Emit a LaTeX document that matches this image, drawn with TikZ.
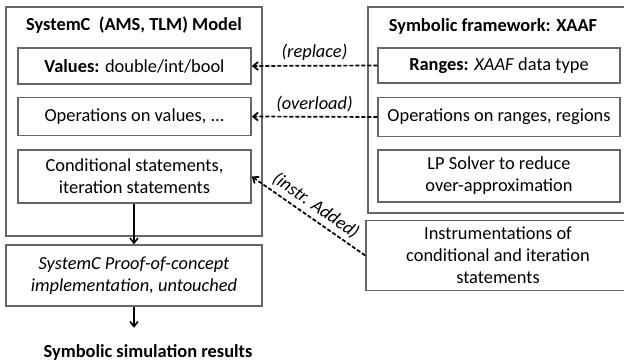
\documentclass[tikz,border=0pt]{standalone}
\usepackage{fontspec}
\setmainfont{Carlito}
\usetikzlibrary{arrows.meta, positioning}
\tikzset{
    >={Straight Barb[length=5pt,width=8pt]},
    frame/.style={
        rectangle,
        draw=black!60,
        line width=1.5pt,
        fill=white
    },
    item/.style={
        rectangle,
        draw=black!60,
        line width=1.5pt,
        fill=white,
        align=center,
        inner sep=2pt,
        font=\fontsize{18.4}{22}\selectfont
    },
    head/.style={
        font=\fontsize{18.4}{22}\selectfont\bfseries
    },
    remark/.style={
        font=\fontsize{18.4}{22}\selectfont\itshape,
        inner sep=1pt
    },
    flow/.style={
        draw=black,
        line width=1.6pt,
        ->
    },
    link/.style={
        draw=black,
        line width=1.7pt,
        dash pattern=on 4pt off 2pt
    }
}

\begin{document}
\begin{tikzpicture}[x=1pt, y=-1pt]

\useasboundingbox (0,0) rectangle (624,362);
\clip (0,0) rectangle (624,362);

% SystemC model
\node[frame, minimum width=256pt, minimum height=229pt] (model) at (134,121.5) {};
\node[head] (modeltitle) at (134,25) {SystemC\ \ (AMS, TLM) Model};

\node[item, minimum width=233pt, minimum height=36pt] (vals) at (134.5,66) {\textbf{Values:} double/int/bool};
\node[item, below=12pt of vals, minimum width=233pt, minimum height=38pt] (ops) {Operations on values, ...};
\node[item, below=13pt of ops, minimum width=233pt, minimum height=53pt] (cond) {Conditional statements,\\iteration statements};

% Proof of concept
\node[item, minimum width=256pt, minimum height=61pt, font=\fontsize{18.4}{22}\selectfont\itshape] (proof) at (134,275.5) {SystemC Proof-of-concept\\implementation, untouched};
\coordinate[below=21pt of proof] (resend);
\node[head] (result) at (148,352) {Symbolic simulation results};

\draw[flow] (proof.north |- cond.south) -- (proof.north);
\draw[flow] (proof.south) -- (resend);

% XAAF framework
\node[frame, minimum width=262pt, minimum height=206pt] (xaaf) at (499,110) {};
\node[head] (xaaftitle) at (493,26) {Symbolic framework: XAAF};

\node[item, minimum width=242pt, minimum height=35pt] (ranges) at (499,65.5) {\textbf{Ranges:} \textit{XAAF} data type};
\node[item, below=13pt of ranges, minimum width=242pt, minimum height=39pt] (rops) {Operations on ranges, regions};
\node[item, below=12pt of rops, minimum width=242pt, minimum height=52pt] (lp) {LP Solver to reduce\\over-approximation};

\node[item, minimum width=264pt, minimum height=70pt] (instr) at (498,255.5) {Instrumentations of\\conditional and iteration\\statements};

% Mappings
\draw[link, ->] (ranges.west) -- node[remark, above=3pt] {(replace)} (vals.east);
\draw[link, ->] (rops.west) -- node[remark, above=3pt] {(overload)} (ops.east);
\draw[link, <-] (cond.east) -- node[remark, sloped, above=3pt] {(instr. Added)} (instr.west);

\end{tikzpicture}
\end{document}
